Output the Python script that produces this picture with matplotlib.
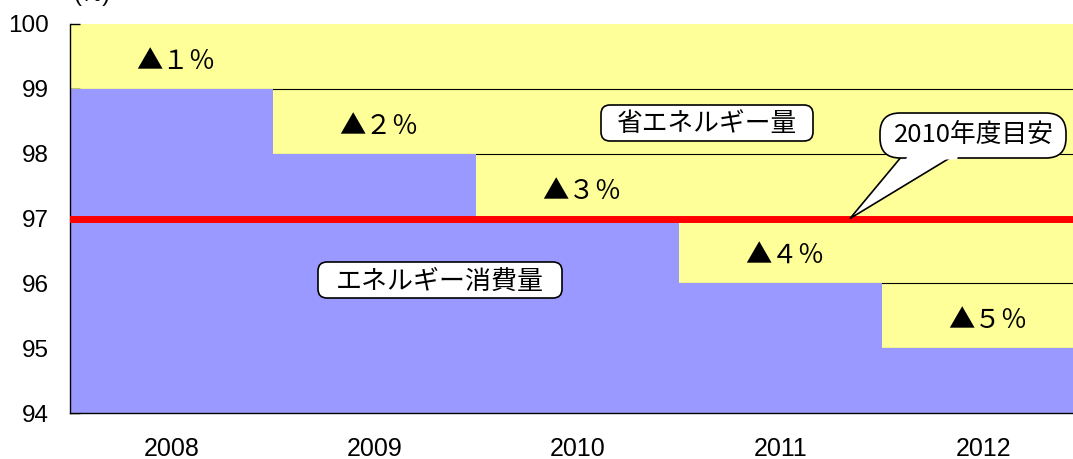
import matplotlib.pyplot as plt
from matplotlib.patches import Polygon, FancyBboxPatch

plt.rcParams["font.family"] = ["Liberation Sans", "Noto Sans CJK JP", "DejaVu Sans"]

JP = ["Noto Sans CJK JP", "DejaVu Sans"]
BLUE = "#9999FF"
YELLOW = "#FFFF99"
RED = "#FF0000"

years = ["2008", "2009", "2010", "2011", "2012"]
consumption = [99, 98, 97, 96, 95]
savings_pct = ["１", "２", "３", "４", "５"]
target = 97
y_ticks = [94, 95, 96, 97, 98, 99, 100]

W, H = 1073, 459
AX_L, AX_R, AX_T, AX_B = 70, 1085, 24, 413
PX_X = (AX_R - AX_L) / len(years)     # pixels per category
PX_Y = (AX_B - AX_T) / 6               # pixels per y unit


def px2x(px):
    return (px - AX_L) / PX_X - 0.5


def px2y(py):
    return 100 - (py - AX_T) / PX_Y


fig = plt.figure(figsize=(W / 100, H / 100), dpi=100, facecolor="white")
ax = fig.add_axes([AX_L / W, 1 - AX_B / H, (AX_R - AX_L) / W, (AX_B - AX_T) / H])
ax.set_facecolor(YELLOW)

x = list(range(len(years)))
ax.bar(x, consumption, width=1.0, color=BLUE, zorder=2)

ax.set_xlim(-0.5, len(years) - 0.5)
ax.set_ylim(94, 100)
ax.set_yticks(y_ticks)
ax.yaxis.grid(True, color="black", linewidth=0.8, zorder=1)
ax.set_axisbelow(True)
ax.get_ygridlines()[-1].set_visible(False)

ax.axhline(target, color=RED, linewidth=5, zorder=4)

for i, (c, s) in enumerate(zip(consumption, savings_pct)):
    ax.text(i + 0.02, c + 0.42, "▲" + s + "％", ha="center", va="center",
            fontsize=19, family=JP, zorder=5)

# tick styling
ax.set_xticks(x)
ax.set_xticklabels(years, fontsize=18)
ax.tick_params(axis="x", length=0, pad=17)
ax.set_xticks([i + 0.5 for i in x[:-1]], minor=True)
ax.tick_params(axis="x", which="minor", direction="in", length=7, width=1)
ax.tick_params(axis="y", direction="in", length=7, width=1, labelsize=17.5, pad=15)

for side in ["top", "right"]:
    ax.spines[side].set_visible(False)
for side in ["left", "bottom"]:
    ax.spines[side].set_linewidth(1)


def rounded_box(x0, y0, x1, y1, radius, lw, z):
    # box given in pixel corners, drawn in data coords with round corners
    box = FancyBboxPatch((px2x(x0), px2y(y1)), (x1 - x0) / PX_X, (y1 - y0) / PX_Y,
                         boxstyle=f"round,pad=0,rounding_size={radius / PX_X}",
                         mutation_aspect=PX_X / PX_Y,
                         fc="white", ec="black", lw=lw, zorder=z)
    ax.add_patch(box)


# callout labels
rounded_box(601, 105, 813, 141, 9, 1.2, 6)
ax.text(px2x(707), px2y(124), "省エネルギー量", ha="center", va="center",
        fontsize=18.5, family=JP, zorder=7)
rounded_box(318, 262, 562, 298, 9, 1.2, 6)
ax.text(px2x(440), px2y(281), "エネルギー消費量", ha="center", va="center",
        fontsize=18.7, family=JP, zorder=7)

# speech bubble for the 2010 target
tip = (px2x(850), target)
ax.add_patch(Polygon([(px2x(907), px2y(150)), tip, (px2x(963), px2y(150))],
                     closed=True, fc="white", ec="black", lw=1.2, zorder=6))
rounded_box(880, 113, 1066, 158, 20, 1.2, 7)
ax.add_patch(Polygon([(px2x(910), px2y(150)), (px2x(906), px2y(159.5)),
                      (px2x(957), px2y(159.5)), (px2x(960), px2y(150))],
                     closed=True, fc="white", ec="none", zorder=8))
ax.text(px2x(974), px2y(135), "2010年度目安", ha="center", va="center",
        fontsize=18.5, family=JP, zorder=9)

fig.text(92 / W, 1 - 1 / H, "(%)", ha="center", va="baseline", fontsize=17)

fig.savefig("out.png", dpi=100, facecolor="white")
